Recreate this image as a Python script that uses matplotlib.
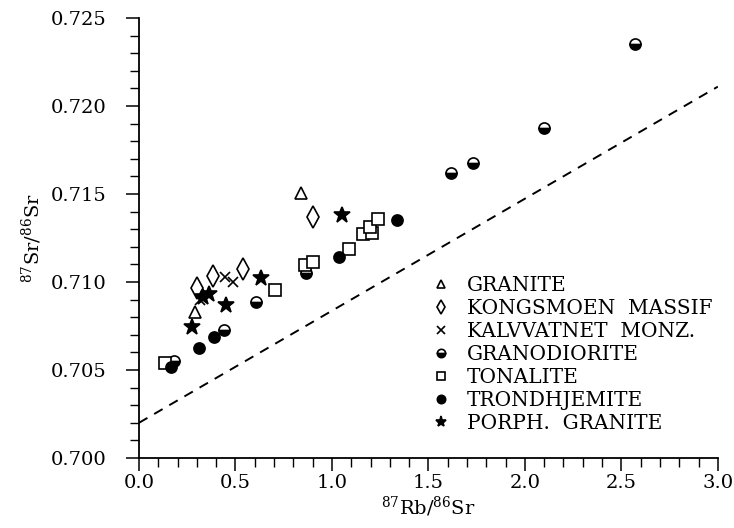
"""Rb-Sr isochron-style plot: 87Sr/86Sr vs 87Rb/86Sr for the granitoid suites,
with the dashed reference line underneath.

Writes out.png (734x528).
"""
import matplotlib
matplotlib.use("Agg")
import matplotlib.pyplot as plt
from matplotlib.lines import Line2D
from matplotlib.ticker import MultipleLocator, FormatStrFormatter

plt.rcParams["font.family"] = ["DejaVu Serif"]
plt.rcParams["mathtext.fontset"] = "dejavuserif"

# values
granite_x = [0.288, 0.839]
granite_y = [0.70830, 0.71507]
kongsmoen_x = [0.299, 0.385, 0.537, 0.900]
kongsmoen_y = [0.70964, 0.71034, 0.71072, 0.71371]
kalvvatnet_x = [0.316, 0.446, 0.489]
kalvvatnet_y = [0.70898, 0.71030, 0.71002]
granodiorite_x = [0.181, 0.442, 0.606, 0.865, 1.615, 1.729, 2.100, 2.570]
granodiorite_y = [0.70553, 0.70730, 0.70886, 0.71053, 0.71618, 0.71678, 0.71875, 0.72352]
tonalite_x = [0.135, 0.705, 0.860, 0.900, 1.090, 1.162, 1.206, 1.197, 1.240]
tonalite_y = [0.70538, 0.70955, 0.71097, 0.71115, 0.71188, 0.71271, 0.71280, 0.71311, 0.71356]
trondhjemite_x = [0.164, 0.312, 0.389, 1.038, 1.338]
trondhjemite_y = [0.70515, 0.70623, 0.70689, 0.71140, 0.71352]
porph_x = [0.276, 0.332, 0.363, 0.451, 0.632, 1.050]
porph_y = [0.70743, 0.70915, 0.70932, 0.70869, 0.71021, 0.71381]
ref_x = [0.0, 3.0]
ref_y = [0.7020, 0.7211]

# (label, marker, plot size, legend size, face, alt face)
STYLES = [
    ("GRANITE", "^", 8, 6, "white", None),
    ("KONGSMOEN  MASSIF", "d", 11, 7, "white", None),
    ("KALVVATNET  MONZ.", "x", 7, 5.5, "black", None),
    ("GRANODIORITE", "o", 8, 6, "black", "white"),
    ("TONALITE", "s", 8.5, 6, "white", None),
    ("TRONDHJEMITE", "o", 8, 6, "black", None),
    ("PORPH.  GRANITE", "*", 12, 8, "black", None),
]
SERIES = [(granite_x, granite_y), (kongsmoen_x, kongsmoen_y), (kalvvatnet_x, kalvvatnet_y),
          (granodiorite_x, granodiorite_y), (tonalite_x, tonalite_y),
          (trondhjemite_x, trondhjemite_y), (porph_x, porph_y)]

fig = plt.figure(figsize=(7.34, 5.28), dpi=100)
ax = fig.add_axes([0.1894, 0.1326, 0.7886, 0.8333])

ax.plot(ref_x, ref_y, "--", color="black", lw=1.4, dashes=(5, 4))

handles = []
for (lab, mk, ms, lms, fc, alt), (xs, ys) in zip(STYLES, SERIES):
    kw = dict(ls="none", color="black", mec="black", mew=1.2, marker=mk, mfc=fc)
    if alt:
        kw.update(fillstyle="bottom", mfcalt=alt)
    ax.plot(xs, ys, ms=ms, **kw)
    handles.append(Line2D([], [], ms=lms, label=lab, **kw))

ax.set_xlim(0, 3.0)
ax.set_ylim(0.700, 0.725)
ax.xaxis.set_major_locator(MultipleLocator(0.5))
ax.xaxis.set_minor_locator(MultipleLocator(0.1))
ax.yaxis.set_major_locator(MultipleLocator(0.005))
ax.yaxis.set_minor_locator(MultipleLocator(0.001))
ax.xaxis.set_major_formatter(FormatStrFormatter("%.1f"))
ax.yaxis.set_major_formatter(FormatStrFormatter("%.3f"))
for s in ("top", "right"):
    ax.spines[s].set_visible(False)
for s in ("left", "bottom"):
    ax.spines[s].set_linewidth(1.3)
ax.tick_params(axis="both", which="major", length=9.5, width=1.1, labelsize=14)
ax.tick_params(axis="both", which="minor", length=6.5, width=1.0)
ax.tick_params(axis="y", which="major", pad=14)
ax.tick_params(axis="x", which="major", pad=2)

ax.set_xlabel(r"$^{87}\mathrm{Rb}/^{86}\mathrm{Sr}$", fontsize=14, labelpad=2)
ax.set_ylabel(r"$^{87}\mathrm{Sr}/^{86}\mathrm{Sr}$", fontsize=14, labelpad=5)

ax.legend(handles=handles, loc="upper left", bbox_to_anchor=(0.49, 0.432), frameon=False,
          fontsize=14.5, handlelength=1.0, handletextpad=0.8, labelspacing=0.2,
          borderaxespad=0)

fig.savefig("out.png", dpi=100)
